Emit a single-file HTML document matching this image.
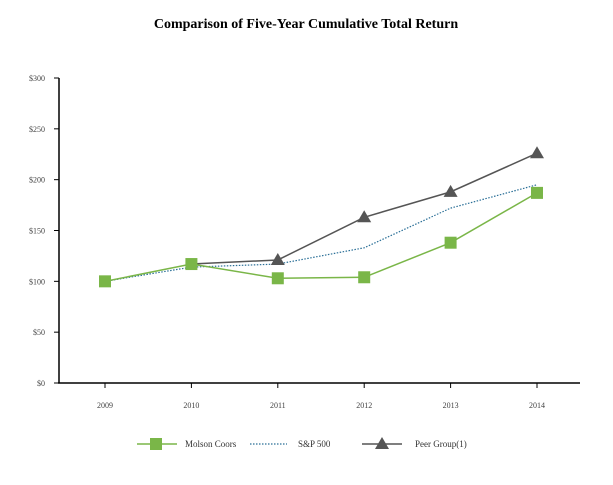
<!DOCTYPE html>
<html><head><meta charset="utf-8"><style>
body{margin:0;background:#fff;width:613px;height:480px;overflow:hidden;font-family:"Liberation Serif",serif;}
</style></head><body>
<svg width="613" height="480" xmlns="http://www.w3.org/2000/svg">
<text x="306" y="28" text-anchor="middle" font-size="14" font-weight="bold" font-family="Liberation Serif">Comparison of Five-Year Cumulative Total Return</text>
<g id="axes"></g><g id="series"></g>
<g>
<g><line x1="137" y1="444" x2="177" y2="444" stroke="#7ab648" stroke-width="1.5"/><rect x="150" y="438" width="12" height="12" fill="#7ab648"/><text x="185" y="447" font-size="9" fill="#333">Molson Coors</text></g>
<g><line x1="250" y1="444" x2="287" y2="444" stroke="#2a6f97" stroke-width="1.2" stroke-dasharray="1.5,1.5"/><text x="298" y="447" font-size="9" fill="#333">S&amp;P 500</text></g>
<g><line x1="362" y1="444" x2="402" y2="444" stroke="#555" stroke-width="1.5"/><polygon points="382,437 389,449 375,449" fill="#555"/><text x="415" y="447" font-size="9" fill="#333">Peer Group(1)</text></g>
</g>
</svg>
<script>
const years=['2009','2010','2011','2012','2013','2014'];
const molson=[100,117,103,104,138,187];
const sp500=[100,114,117,133,172,195];
const peer=[null,117,121,163,188,226];
const yTicks=[0,50,100,150,200,250,300];
const NS='http://www.w3.org/2000/svg';
const xs=i=>105+i*86.4;
const ys=v=>383-v*(305/300);
function mk(t,a,p){const e=document.createElementNS(NS,t);for(const k in a)e.setAttribute(k,a[k]);p.appendChild(e);return e;}
const ax=document.getElementById('axes'),se=document.getElementById('series');
const yl=mk('line',{x1:59,y1:78,x2:59,y2:383,stroke:'#000','stroke-width':1.5},ax);


const xl=mk('line',{x1:58,y1:383,x2:580,y2:383,stroke:'#000','stroke-width':1.5},ax);


yTicks.forEach(v=>{mk('line',{x1:54,y1:ys(v),x2:59,y2:ys(v),stroke:'#000'},ax);
const t=mk('text',{x:45,y:ys(v)+3,'text-anchor':'end','font-size':8,fill:'#444'},ax);t.textContent='$'+v;

});
years.forEach((y,i)=>{mk('line',{x1:xs(i),y1:383,x2:xs(i),y2:388,stroke:'#000'},ax);
const t=mk('text',{x:xs(i),y:408,'text-anchor':'middle','font-size':8,fill:'#444'},ax);t.textContent=y;

});
function path(arr){return arr.map((v,i)=>v==null?null:[xs(i),ys(v)]).filter(p=>p).map((p,j)=>(j?'L':'M')+p[0]+','+p[1]).join('');}
const ps=mk('path',{d:path(sp500),fill:'none',stroke:'#2a6f97','stroke-width':1.2,'stroke-dasharray':'1.5,1.5'},se);


const pp=mk('path',{d:path(peer),fill:'none',stroke:'#555','stroke-width':1.5},se);


peer.forEach((v,i)=>{if(v==null||i<2)return;const x=xs(i),y=ys(v);
const m=mk('polygon',{points:`${x},${y-7} ${x+7},${y+5} ${x-7},${y+5}`,fill:'#555'},se);

});
const pm=mk('path',{d:path(molson),fill:'none',stroke:'#7ab648','stroke-width':1.5},se);


molson.forEach((v,i)=>{const m=mk('rect',{x:xs(i)-6,y:ys(v)-6,width:12,height:12,fill:'#7ab648'},se);

});
</script>
</body></html>
